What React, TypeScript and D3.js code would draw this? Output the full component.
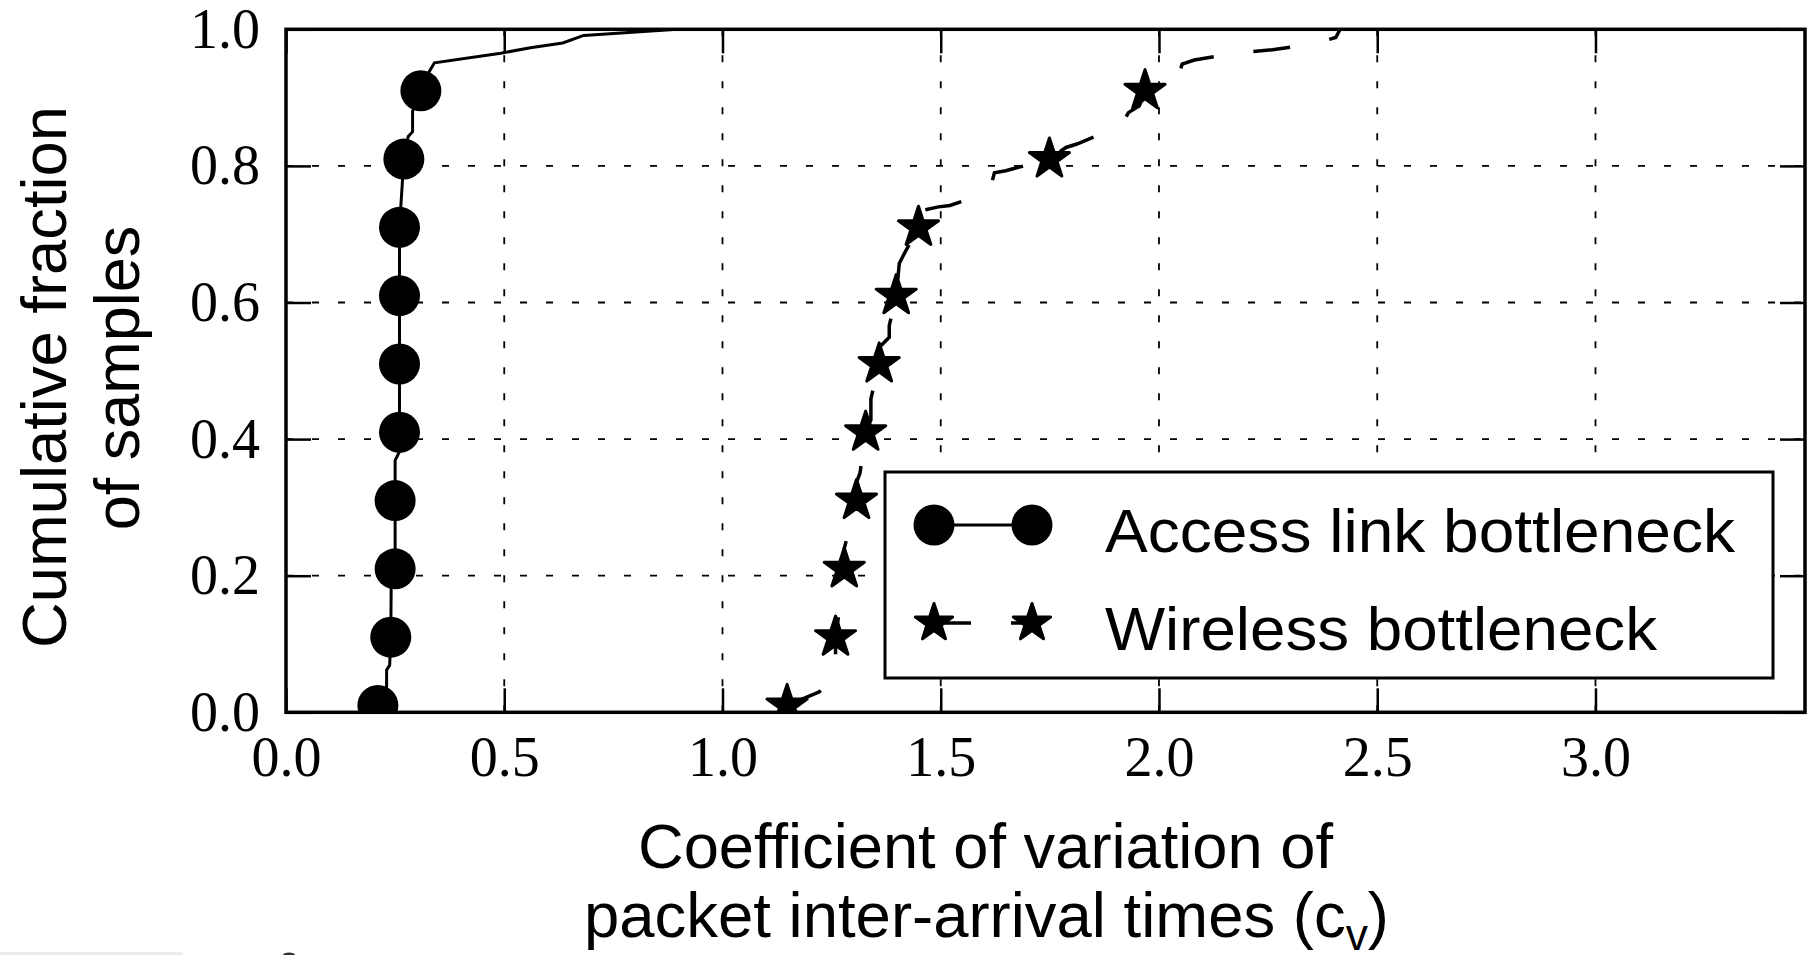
import React, { useEffect, useRef } from 'react';
import * as d3 from 'd3';

// axis ticks
const xTicks = [0, 0.5, 1.0, 1.5, 2.0, 2.5, 3.0];
const yTicks = [0, 0.2, 0.4, 0.6, 0.8, 1.0];

// CDF of the access link bottleneck
const accessX = [0.2105, 0.2305, 0.2305, 0.2375, 0.240, 0.241, 0.250, 0.250, 0.250, 0.260,
  0.260, 0.260, 0.260, 0.260, 0.265, 0.270, 0.280, 0.290, 0.290, 0.309,
  0.329, 0.340, 0.492, 0.560, 0.634, 0.682, 0.897];
const accessY = [0.01, 0.0375, 0.062, 0.069, 0.11, 0.185, 0.21, 0.31, 0.369, 0.3815,
  0.41, 0.51, 0.61, 0.71, 0.76, 0.81, 0.843, 0.85, 0.88, 0.91,
  0.939, 0.951, 0.965, 0.973, 0.98, 0.991, 1.0];

// CDF of the wireless bottleneck
const wirelessX = [1.148, 1.222, 1.245, 1.259, 1.259, 1.268, 1.279, 1.279, 1.279, 1.295,
  1.307, 1.307, 1.315, 1.328, 1.340, 1.340, 1.359, 1.360, 1.382, 1.382,
  1.398, 1.405, 1.416, 1.449, 1.459, 1.495, 1.521, 1.598, 1.618, 1.623,
  1.649, 1.749, 1.787, 1.812, 1.894, 1.915, 1.930, 1.955, 1.968, 2.006,
  2.048, 2.053, 2.081, 2.172, 2.260, 2.349, 2.405, 2.415];
const wirelessY = [0.01, 0.03, 0.05, 0.078, 0.11, 0.15, 0.19, 0.21, 0.24, 0.28,
  0.31, 0.337, 0.35, 0.41, 0.428, 0.459, 0.51, 0.535, 0.549, 0.566,
  0.61, 0.657, 0.671, 0.71, 0.735, 0.74, 0.742, 0.759, 0.778, 0.79,
  0.793, 0.81, 0.827, 0.832, 0.854, 0.861, 0.878, 0.888, 0.91, 0.93,
  0.939, 0.949, 0.955, 0.965, 0.97, 0.978, 0.988, 1.0];

// markers, one every 10% of the samples
const markerY = [0.01, 0.11, 0.21, 0.31, 0.41, 0.51, 0.61, 0.71, 0.81, 0.91];
const accessMarkX = [0.2105, 0.240, 0.250, 0.250, 0.260, 0.260, 0.260, 0.260, 0.270, 0.309];
const wirelessMarkX = [1.148, 1.259, 1.279, 1.307, 1.328, 1.359, 1.398, 1.449, 1.749, 1.968];

const seriesNames = ['Access link bottleneck', 'Wireless bottleneck'];

const SERIF = "'Liberation Serif', 'Times New Roman', serif";
const SANS = "'Liberation Sans', Arial, sans-serif";

function drawChart(node) {
  const svg = d3.select(node);
  svg.selectAll('*').remove();

  const left = 286, right = 1805, top = 29.3, bottom = 712.3;
  const x = d3.scaleLinear().domain([0, 3.48]).range([left, right]);
  const y = d3.scaleLinear().domain([0, 1]).range([bottom, top]);

  svg.append('rect').attr('width', 1810).attr('height', 955).attr('fill', '#fff');

  svg.append('defs').append('clipPath').attr('id', 'plotclip')
    .append('rect')
    .attr('x', left).attr('y', top)
    .attr('width', right - left).attr('height', bottom - top);

  // dotted grid
  const grid = svg.append('g').attr('stroke', '#000').attr('stroke-width', 1.8)
    .attr('stroke-dasharray', '7,19');
  grid.selectAll('line.vg').data(xTicks.slice(1))
    .enter().append('line').attr('class', 'vg')
    .attr('x1', (d) => x(d)).attr('x2', (d) => x(d))
    .attr('y1', bottom).attr('y2', top);
  grid.selectAll('line.hg').data(yTicks.slice(1, -1))
    .enter().append('line').attr('class', 'hg')
    .attr('x1', left).attr('x2', right)
    .attr('y1', (d) => y(d)).attr('y2', (d) => y(d));

  const line = d3.line().x((d) => x(d[0])).y((d) => y(d[1]));
  const body = svg.append('g').attr('clip-path', 'url(#plotclip)');

  body.append('path')
    .attr('d', line(d3.zip(accessX, accessY)))
    .attr('fill', 'none').attr('stroke', '#000').attr('stroke-width', 3);
  body.append('path')
    .attr('d', line(d3.zip(wirelessX, wirelessY)))
    .attr('fill', 'none').attr('stroke', '#000').attr('stroke-width', 3.5)
    .attr('stroke-dasharray', '37,40');

  body.selectAll('circle.mk').data(d3.zip(accessMarkX, markerY))
    .enter().append('circle').attr('class', 'mk')
    .attr('cx', (d) => x(d[0])).attr('cy', (d) => y(d[1]))
    .attr('r', 20.5).attr('fill', '#000');

  // star markers get a thin edge like matplotlib's markeredge
  const star = d3.symbol(d3.symbolStar, 500);
  const legendStar = d3.symbol(d3.symbolStar, 430);
  body.selectAll('path.st').data(d3.zip(wirelessMarkX, markerY))
    .enter().append('path').attr('class', 'st')
    .attr('d', star())
    .attr('transform', (d) => `translate(${x(d[0])},${y(d[1])})`)
    .attr('fill', '#000').attr('stroke', '#000').attr('stroke-width', 3)
    .attr('stroke-linejoin', 'round');

  // axes, ticks pointing inward on all four sides
  const styleAxis = (g) => {
    g.select('.domain').remove();
    g.attr('font-family', SERIF).attr('font-size', 56);
    g.selectAll('.tick line').attr('stroke-width', 2.5);
    g.selectAll('.tick text').attr('fill', '#000');
  };
  svg.append('g').attr('transform', `translate(0,${bottom})`)
    .call(d3.axisBottom(x).tickValues(xTicks).tickSizeInner(-24).tickSizeOuter(0)
      .tickPadding(24).tickFormat(d3.format('.1f')))
    .call(styleAxis);
  svg.append('g').attr('transform', `translate(${left},0)`)
    .call(d3.axisLeft(y).tickValues(yTicks).tickSizeInner(-25).tickSizeOuter(0)
      .tickPadding(26).tickFormat(d3.format('.1f')))
    .call(styleAxis);
  svg.append('g').attr('transform', `translate(0,${top})`)
    .call(d3.axisTop(x).tickValues(xTicks).tickSizeInner(-24).tickSizeOuter(0).tickFormat(() => ''))
    .call(styleAxis);
  svg.append('g').attr('transform', `translate(${right},0)`)
    .call(d3.axisRight(y).tickValues(yTicks).tickSizeInner(-25).tickSizeOuter(0).tickFormat(() => ''))
    .call(styleAxis);

  svg.append('rect')
    .attr('x', left).attr('y', top)
    .attr('width', right - left).attr('height', bottom - top)
    .attr('fill', 'none').attr('stroke', '#000').attr('stroke-width', 3.5);

  // legend
  const lg = svg.append('g');
  lg.append('rect')
    .attr('x', 885).attr('y', 472).attr('width', 888).attr('height', 206)
    .attr('fill', '#fff').attr('stroke', '#000').attr('stroke-width', 3);
  const rows = [525, 623];
  const mx = [934, 1032];
  lg.append('line').attr('x1', mx[0]).attr('x2', mx[1]).attr('y1', rows[0]).attr('y2', rows[0])
    .attr('stroke', '#000').attr('stroke-width', 3);
  lg.selectAll('circle').data(mx).enter().append('circle')
    .attr('cx', (d) => d).attr('cy', rows[0]).attr('r', 20.5).attr('fill', '#000');
  lg.append('line').attr('x1', mx[0]).attr('x2', mx[1]).attr('y1', rows[1]).attr('y2', rows[1])
    .attr('stroke', '#000').attr('stroke-width', 3.5).attr('stroke-dasharray', '37,40');
  lg.selectAll('path.ls').data(mx).enter().append('path').attr('class', 'ls')
    .attr('d', legendStar())
    .attr('transform', (d) => `translate(${d},${rows[1]})`)
    .attr('fill', '#000').attr('stroke', '#000').attr('stroke-width', 3)
    .attr('stroke-linejoin', 'round');
  const lens = [630, 552];
  lg.selectAll('text').data(seriesNames).enter().append('text')
    .attr('x', 1105).attr('y', (d, i) => rows[i] + 26.5)
    .attr('font-family', SANS).attr('font-size', 61)
    .attr('textLength', (d, i) => lens[i]).attr('lengthAdjust', 'spacingAndGlyphs')
    .text((d) => d);

  // axis titles
  const xt = svg.append('g').attr('font-family', SANS).attr('font-size', 63).attr('fill', '#000');
  xt.append('text').attr('x', 638).attr('y', 868)
    .attr('textLength', 695).attr('lengthAdjust', 'spacingAndGlyphs')
    .text('Coefficient of variation of');
  const t2 = xt.append('text').attr('x', 584).attr('y', 937)
    .attr('textLength', 805).attr('lengthAdjust', 'spacingAndGlyphs');
  t2.append('tspan').text('packet inter-arrival times (c');
  t2.append('tspan').attr('font-size', 44).attr('dy', 13).text('v');
  t2.append('tspan').attr('dy', -13).text(')');

  const yt = svg.append('g').attr('font-family', SANS).attr('font-size', 63)
    .attr('text-anchor', 'middle').attr('fill', '#000');
  yt.append('text').attr('transform', 'translate(66,377) rotate(-90)')
    .attr('textLength', 542).attr('lengthAdjust', 'spacingAndGlyphs')
    .text('Cumulative fraction');
  yt.append('text').attr('transform', 'translate(139,378) rotate(-90)')
    .text('of samples');

  // faint crop remnants along the bottom edge of the scan
  svg.append('rect').attr('x', 0).attr('y', 952).attr('width', 183).attr('height', 3).attr('fill', '#ececec');
  svg.append('ellipse').attr('cx', 289).attr('cy', 955).attr('rx', 6).attr('ry', 2.5).attr('fill', '#333');
}

export default function App() {
  const ref = useRef(null);
  useEffect(() => {
    drawChart(ref.current);
  }, []);
  return (
    <svg ref={ref} width={1810} height={955}
      style={{ position: 'absolute', left: 0, top: 0, display: 'block' }} />
  );
}
